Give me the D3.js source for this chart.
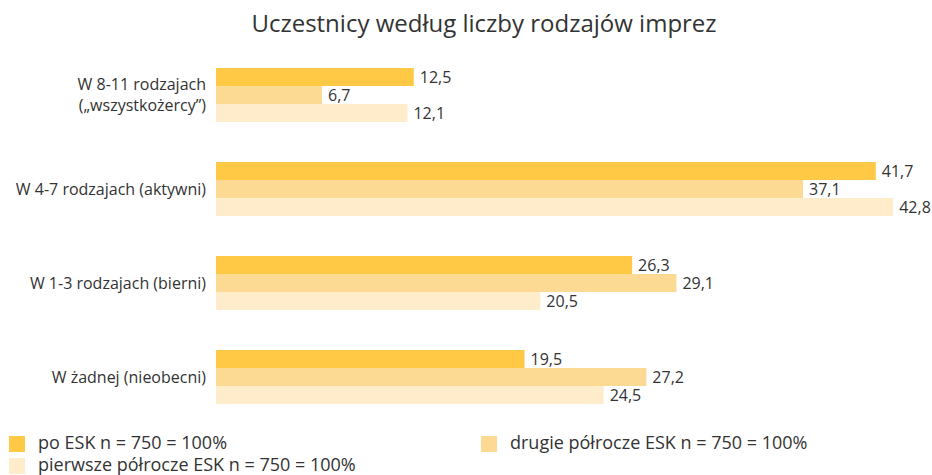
<!DOCTYPE html>
<html>
<head>
<meta charset="utf-8">
<script src="https://cdn.jsdelivr.net/npm/d3@7"></script>
<style>
  body { margin: 0; background: #fff; }
  text { font-family: "Open Sans", "Noto Sans", sans-serif; fill: #333; }
</style>
</head>
<body>
<svg id="chart" width="932" height="475"></svg>
<script>
// data
const categories = ['W 8-11 rodzajach\n(„wszystkożercy”)', 'W 4-7 rodzajach (aktywni)', 'W 1-3 rodzajach (bierni)', 'W żadnej (nieobecni)'];
const seriesNames = ['po ESK n = 750 = 100%', 'drugie półrocze ESK n = 750 = 100%', 'pierwsze półrocze ESK n = 750 = 100%'];
const poESK = [12.5, 41.7, 26.3, 19.5];
const drugie = [6.7, 37.1, 29.1, 27.2];
const pierwsze = [12.1, 42.8, 20.5, 24.5];
const colors = ['#ffc845', '#fdda93', '#feeccb'];

const svg = d3.select('#chart');
const series = [poESK, drugie, pierwsze];

const x = d3.scaleLinear().domain([0, 45]).range([216, 928]);
const y = d3.scaleBand().domain(d3.range(categories.length)).range([48, 424]).paddingInner(0.426).paddingOuter(0.213);
const ySub = d3.scaleBand().domain(d3.range(series.length)).range([0, y.bandwidth()]);
const fmt = v => d3.format('.1f')(v).replace('.', ',');

svg.append('text')
    .attr('x', 484).attr('y', 32)
    .attr('text-anchor', 'middle')
    .style('font-size', '24px')
    .text('Uczestnicy według liczby rodzajów imprez');

const groups = svg.selectAll('.grp')
    .data(categories).enter()
    .append('g')
    .attr('class', 'grp')
    .attr('transform', (d, i) => 'translate(0,' + y(i) + ')');

groups.each(function (c, i) {
    const g = d3.select(this);
    series.forEach((s, k) => {
        g.append('rect')
            .attr('x', x(0))
            .attr('y', ySub(k))
            .attr('width', x(s[i]) - x(0))
            .attr('height', ySub.bandwidth())
            .style('fill', colors[k]);
        g.append('text')
            .attr('x', x(s[i]) + 6)
            .attr('y', ySub(k) + ySub.bandwidth() / 2 + 6)
            .style('font-size', '16px')
            .text(fmt(s[i]));
    });
    const lines = c.split('\n');
    const lab = g.append('text')
        .attr('text-anchor', 'end')
        .style('font-size', '16px');
    lines.forEach((l, j) => {
        lab.append('tspan')
            .attr('x', 206)
            .attr('y', y.bandwidth() / 2 + 6 + (j - (lines.length - 1) / 2) * 21)
            .text(l);
    });
});

// legend
const legPos = [[9, 443], [481, 443], [9, 465]];
seriesNames.forEach((n, k) => {
    const lg = svg.append('g').attr('transform', 'translate(' + legPos[k][0] + ',' + legPos[k][1] + ')');
    lg.append('rect').attr('x', 0).attr('y', -7).attr('width', 16).attr('height', 16).style('fill', colors[k]);
    lg.append('text').attr('x', 29).attr('y', 6).style('font-size', '18px').text(n);
});
</script>
</body>
</html>
